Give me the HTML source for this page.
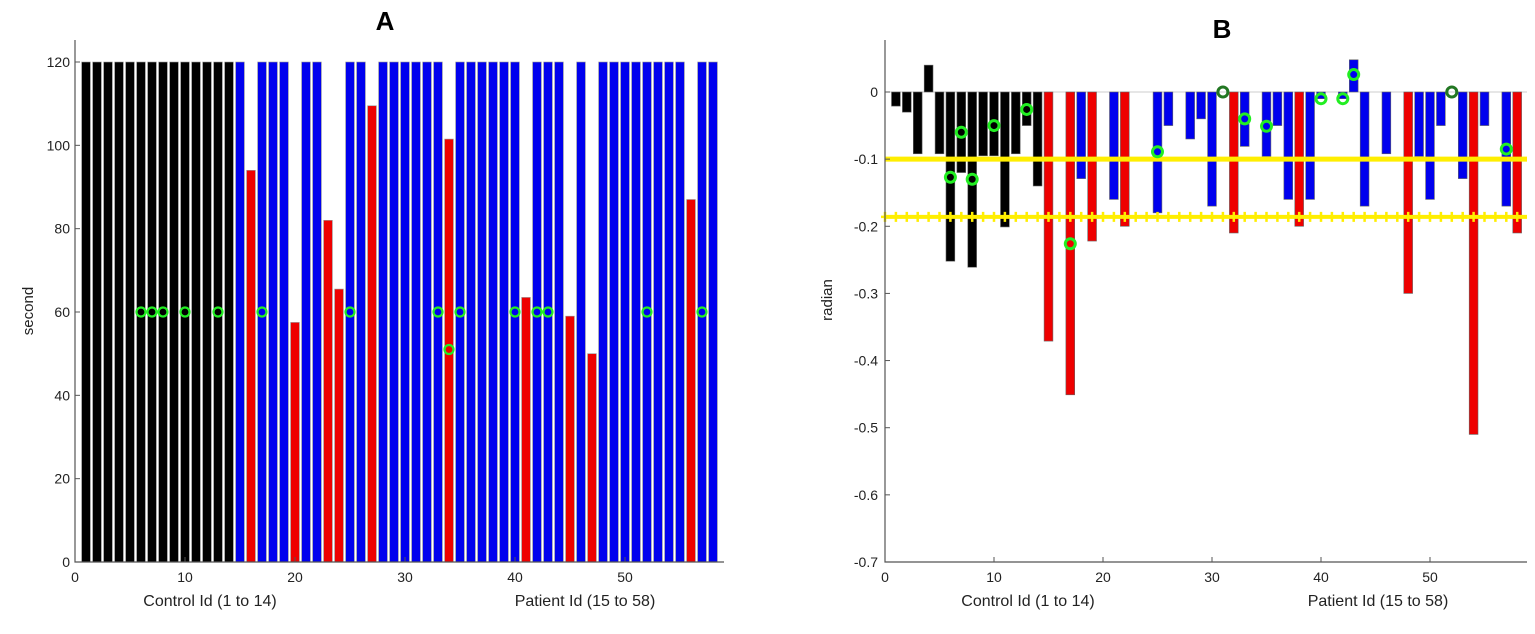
<!DOCTYPE html>
<html><head><meta charset="utf-8"><style>
body{margin:0;background:#fff;}
svg{display:block;font-family:"Liberation Sans",sans-serif;}
</style></head><body>
<svg id="chart" width="1535" height="634" viewBox="0 0 1535 634">
<g id="panelA"></g>
<g id="panelB"></g>
</svg>
<script>
// Panel A data (seconds), ids 1..58
const idsA = Array.from({length:58},(_,i)=>i+1);
const secondsA = [120,120,120,120,120,120,120,120,120,120,120,120,120,120,
 120,94,120,120,120,57.5,120,120,82,65.5,120,120,109.5,120,120,120,120,120,120,101.5,120,120,120,120,120,120,
 63.5,120,120,120,59,120,50,120,120,120,120,120,120,120,120,87,120,120];
const colorsA = "kkkkkkkkkkkkkkbrbbbrbbrrbbrbbbbbbrbbbbbbrbbbrbrbbbbbbbbrbb";
const circleIdsA = [6,7,8,10,13,17,25,33,34,35,40,42,43,52,57];
const circleValsA = [60,60,60,60,60,60,60,60,51,60,60,60,60,60,60];
const yTicksA = [0,20,40,60,80,100,120];
const xTicks = [0,10,20,30,40,50];

// Panel B data (radian)
const radianB = [-0.021,-0.03,-0.092,0.040,-0.092,-0.252,-0.12,-0.261,-0.095,-0.095,-0.201,-0.092,-0.05,-0.14,
 -0.371,0,-0.451,-0.129,-0.222,0,-0.16,-0.2,0,0,-0.18,-0.05,0,-0.07,-0.04,-0.17,0,-0.21,-0.081,0,-0.096,-0.05,-0.16,-0.2,-0.16,-0.01,
 0,-0.01,0.048,-0.17,0,-0.092,0,-0.30,-0.096,-0.16,-0.05,0,-0.129,-0.51,-0.05,0,-0.17,-0.21];
const colorsB = "kkkkkkkkkkkkkkrbrbrbbrbbbbbbbbbrbbbbbrbbbbbbbbbrbbbbbrbbbr";
const circleIdsB = [6,7,8,10,13,17,25,31,33,35,40,42,43,52,57];
const circleValsB = [-0.127,-0.06,-0.13,-0.05,-0.026,-0.226,-0.089,0,-0.04,-0.051,-0.01,-0.01,0.026,0,-0.085];
const circleDarkB = [31,52];
const thresholdSolid = -0.1;
const thresholdDotted = -0.186;
const yTicksB = [0,-0.1,-0.2,-0.3,-0.4,-0.5,-0.6,-0.7];

const NS="http://www.w3.org/2000/svg";
const COL={k:"#000",b:"#0000ee",r:"#ee0000"};
function mk(parent,tag,attrs){const e=document.createElementNS(NS,tag);for(const k in attrs)e.setAttribute(k,attrs[k]);parent.appendChild(e);return e;}

// ---------- Panel A ----------
const A=document.getElementById('panelA');
const xA=v=>75+v*11.0, yA=v=>562-v*(500/120);
let t;
t=mk(A,'text',{x:385,y:30,'font-size':26,'font-weight':'bold','text-anchor':'middle'});t.textContent='A';


idsA.forEach((id,i)=>{
  const v=secondsA[i];
  const r=mk(A,'rect',{x:xA(id)-4.4,y:yA(v),width:8.8,height:yA(0)-yA(v),fill:COL[colorsA[i]],stroke:'#999','stroke-width':0.6});
  
  
});
circleIdsA.forEach((id,i)=>{
  const c=mk(A,'circle',{cx:xA(id),cy:yA(circleValsA[i]),r:4.5,fill:'none',stroke:'#22ee22','stroke-width':2.2});
  
  
});
let ax=mk(A,'path',{d:`M75,40 V562 H${xA(59)}`,fill:'none',stroke:'#555','stroke-width':1.2});


yTicksA.forEach(v=>{
  mk(A,'line',{x1:75,x2:80,y1:yA(v),y2:yA(v),stroke:'#555'});
  const l=mk(A,'text',{x:70,y:yA(v)+5,'font-size':14,'text-anchor':'end',fill:'#222'});l.textContent=v;
  
  
});
xTicks.forEach(v=>{
  mk(A,'line',{x1:xA(v),x2:xA(v),y1:562,y2:557,stroke:'#555'});
  const l=mk(A,'text',{x:xA(v),y:582,'font-size':14,'text-anchor':'middle',fill:'#222'});l.textContent=v;
  
  
});
t=mk(A,'text',{x:33,y:311,'font-size':15,'text-anchor':'middle',transform:'rotate(-90 33 311)',fill:'#222'});t.textContent='second';


t=mk(A,'text',{x:210,y:606,'font-size':16,'text-anchor':'middle',fill:'#222'});t.textContent='Control Id (1 to 14)';


t=mk(A,'text',{x:585,y:606,'font-size':16,'text-anchor':'middle',fill:'#222'});t.textContent='Patient Id (15 to 58)';



// ---------- Panel B ----------
const B=document.getElementById('panelB');
const xB=v=>885+v*10.9, yB=v=>92-v*671.4;
t=mk(B,'text',{x:1222,y:38,'font-size':26,'font-weight':'bold','text-anchor':'middle'});t.textContent='B';


mk(B,'line',{x1:885,x2:1527,y1:yB(0),y2:yB(0),stroke:'#ccc','stroke-width':1});
radianB.forEach((v,i)=>{
  if(v===0)return;
  const id=i+1;
  const y0=Math.min(yB(0),yB(v)),h=Math.abs(yB(v)-yB(0));
  const r=mk(B,'rect',{x:xB(id)-4.4,y:y0,width:8.8,height:h,fill:COL[colorsB[i]],stroke:'#666','stroke-width':0.6});
  
  
});
let ln=mk(B,'line',{x1:885,x2:1527,y1:yB(thresholdSolid),y2:yB(thresholdSolid),stroke:'#ffee00','stroke-width':5});


ln=mk(B,'line',{x1:885,x2:1527,y1:yB(thresholdDotted),y2:yB(thresholdDotted),stroke:'#ffee00','stroke-width':4});


for(let k=0;k<=58;k++){
  const cx=xB(k),cy=yB(thresholdDotted);
  mk(B,'path',{d:`M${cx-4},${cy}H${cx+4}M${cx},${cy-5}V${cy+5}`,stroke:'#ffee00','stroke-width':2.5});
}
circleIdsB.forEach((id,i)=>{
  const dark=circleDarkB.includes(id);
  const c=mk(B,'circle',{cx:xB(id),cy:yB(circleValsB[i]),r:5,fill:'none',stroke:dark?'#227722':'#22ee22','stroke-width':3});
  
  
});
ax=mk(B,'path',{d:`M885,40 V562 H1527`,fill:'none',stroke:'#555','stroke-width':1.2});


yTicksB.forEach(v=>{
  mk(B,'line',{x1:885,x2:890,y1:yB(v),y2:yB(v),stroke:'#555'});
  const l=mk(B,'text',{x:878,y:yB(v)+5,'font-size':14,'text-anchor':'end',fill:'#222'});l.textContent=v===0?'0':v.toFixed(1);
  
  
});
xTicks.forEach(v=>{
  mk(B,'line',{x1:xB(v),x2:xB(v),y1:562,y2:557,stroke:'#555'});
  const l=mk(B,'text',{x:xB(v),y:582,'font-size':14,'text-anchor':'middle',fill:'#222'});l.textContent=v;
  
  
});
t=mk(B,'text',{x:832,y:300,'font-size':15,'text-anchor':'middle',transform:'rotate(-90 832 300)',fill:'#222'});t.textContent='radian';


t=mk(B,'text',{x:1028,y:606,'font-size':16,'text-anchor':'middle',fill:'#222'});t.textContent='Control Id (1 to 14)';


t=mk(B,'text',{x:1378,y:606,'font-size':16,'text-anchor':'middle',fill:'#222','xml:space':'preserve'});t.textContent='Patient Id  (15 to 58)';


</script>
</body></html>
